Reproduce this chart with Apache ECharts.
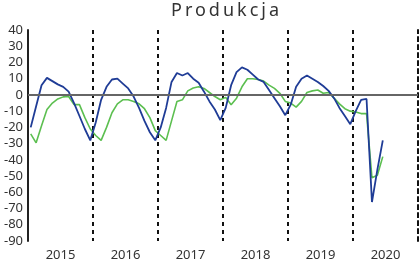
<!DOCTYPE html>
<html>
<head>
    <meta charset="UTF-8">
    <title>Produkcja</title>
    <script src="https://cdn.jsdelivr.net/npm/echarts@6/dist/echarts.min.js"></script>
    <style type="text/css">
        html, body {
            margin: 0;
            padding: 0;
            background: #fff;
        }
        #wrap {
            position: relative;
            width: 420px;
            height: 262px;
        }
        #main {
            width: 420px;
            height: 262px;
        }
        #title {
            position: absolute;
            top: -3px;
            left: 171px;
            font-family: "Noto Sans", sans-serif;
            font-size: 18px;
            letter-spacing: 3px;
            color: #333;
        }
    </style>
</head>
<body>
<div id="wrap">
    <div id="main"></div>
    <div id="title">Produkcja</div>
</div>
<script type="text/javascript">
    // lata na osi X
    var years = ['2015', '2016', '2017', '2018', '2019', '2020'];
    var months = ['01', '02', '03', '04', '05', '06', '07', '08', '09', '10', '11', '12'];

    // seria granatowa
    var blue = [
        -20, -7, 6, 10.5, 8.5, 6.5, 5, 2, -5, -13, -21, -28,
        -17, -3, 5, 9.5, 10, 7, 4, -1, -8, -16, -23, -28,
        -20, -8, 8, 13.5, 12, 13.5, 10, 7.5, 2, -4, -9, -15.5,
        -8, 6, 14, 17, 15.5, 12.5, 9.5, 8, 3, -2, -7, -12.5,
        -6, 5, 10, 12, 10, 8, 5.5, 2.5, -2, -8, -13, -18,
        -10, -3, -2.5, -66, -46, -28
    ];
    // seria zielona
    var green = [
        -24, -29.5, -19, -9, -5, -2.5, -1.2, -1, -6, -6, -14, -21,
        -25, -28, -20, -11, -5.5, -3, -3, -4, -5.5, -8.5, -14, -22,
        -25, -28, -16, -4, -3, 2.5, 4.3, 5, 4, 1.5, -1, -3,
        -1.5, -6, -2, 5, 10, 10, 9.5, 8.5, 6, 4, 1, -4,
        -5, -7.5, -4, 1.5, 2.5, 3, 1, 1.5, -2, -5.5, -8.5, -10,
        -10.5, -11.5, -11.5, -51, -49.5, -38
    ];

    var monthCats = [];
    years.forEach(function (y) {
        months.forEach(function (m) {
            monthCats.push(y + '-' + m);
        });
    });

    var chart = echarts.init(document.getElementById('main'));
    var font = '"Noto Sans", sans-serif';
    var dash = {color: '#111', width: 2, type: [4, 4]};
    var option = {
        animation: false,
        grid: {left: 28, right: 2, top: 30, bottom: 15},
        xAxis: [{
            // miesiace - tylko do rysowania linii
            type: 'category',
            data: monthCats,
            boundaryGap: true,
            axisLine: {show: false},
            axisTick: {show: false},
            axisLabel: {show: false},
            splitLine: {show: false}
        }, {
            // lata - etykiety i przerywane linie
            type: 'category',
            data: years,
            boundaryGap: true,
            position: 'bottom',
            axisLine: {show: false},
            axisTick: {show: false},
            axisLabel: {
                color: '#333',
                fontSize: 13,
                fontFamily: font,
                margin: 8
            },
            splitLine: {show: true, lineStyle: dash}
        }],
        yAxis: [{
            type: 'value',
            min: -90,
            max: 40,
            interval: 10,
            axisLine: {show: true, onZero: false, lineStyle: {color: '#222', width: 2}},
            axisTick: {show: false},
            splitLine: {show: false},
            axisLabel: {
                color: '#333',
                fontSize: 13,
                fontFamily: font,
                margin: 5
            }
        }, {
            // ostatnia przerywana linia po prawej
            type: 'value',
            position: 'right',
            min: -90,
            max: 40,
            interval: 10,
            axisLine: {show: true, onZero: false, lineStyle: dash},
            axisTick: {show: false},
            axisLabel: {show: false},
            splitLine: {show: false}
        }],
        series: [{
            name: 'zielona',
            type: 'line',
            xAxisIndex: 0,
            data: green,
            symbol: 'none',
            lineStyle: {color: '#5cbf50', width: 1.6},
            markLine: {
                silent: true,
                symbol: 'none',
                label: {show: false},
                lineStyle: {color: '#666', width: 2, type: 'solid'},
                data: [{yAxis: 0}]
            }
        }, {
            name: 'granatowa',
            type: 'line',
            xAxisIndex: 0,
            data: blue,
            symbol: 'none',
            lineStyle: {color: '#1f3c96', width: 1.8}
        }]
    };
    chart.setOption(option);
</script>
</body>
</html>
